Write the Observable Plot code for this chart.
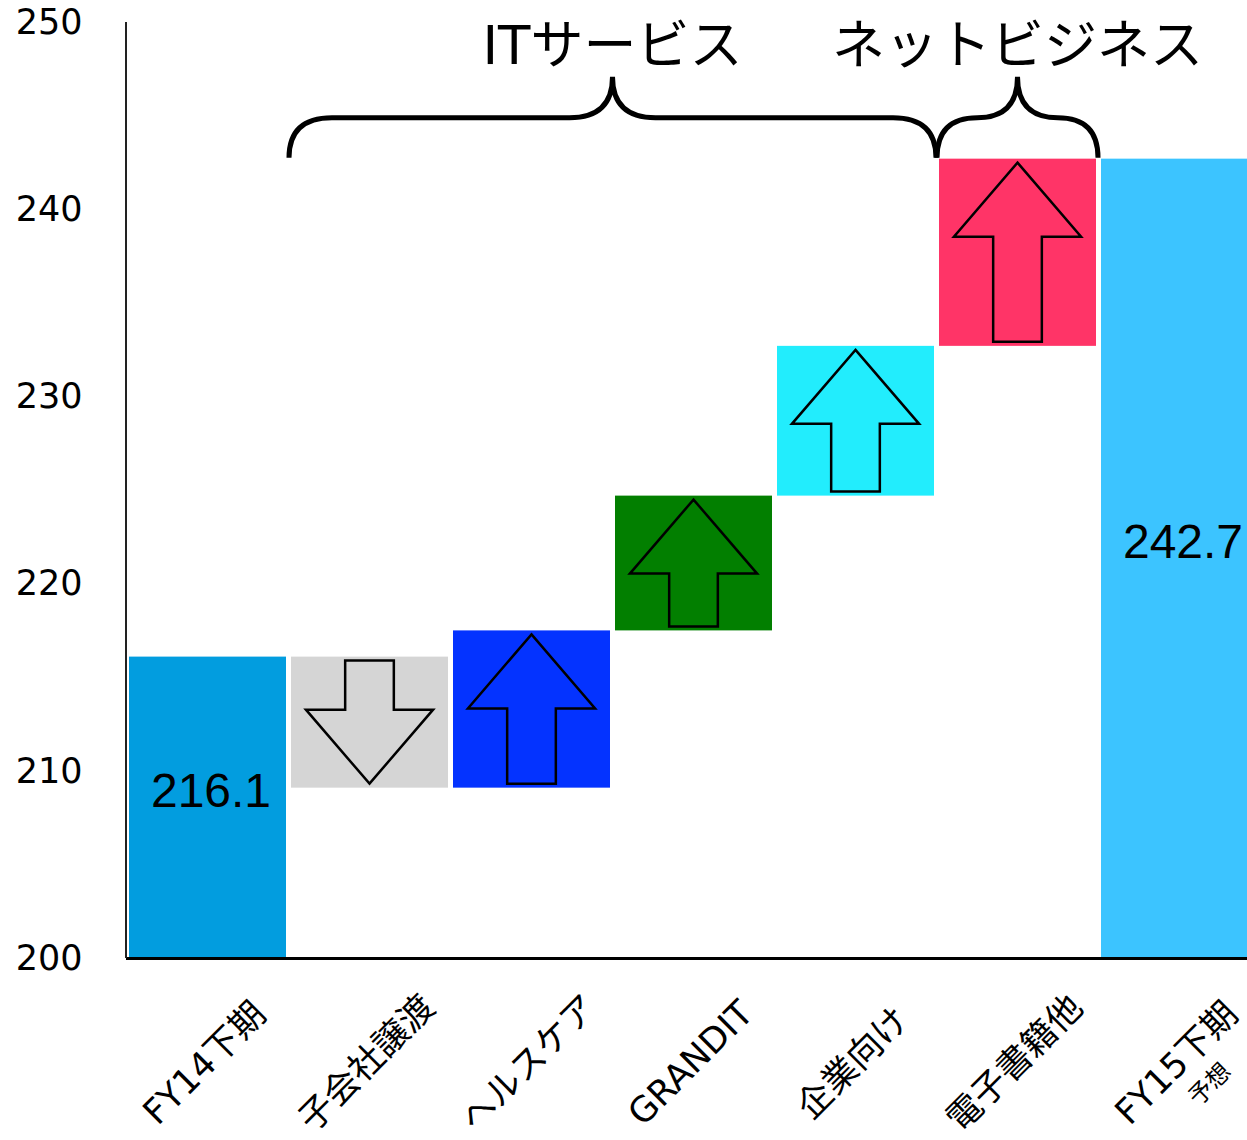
<!DOCTYPE html>
<html><head><meta charset="utf-8">
<script src="https://cdn.jsdelivr.net/npm/d3@7"></script>
<script src="https://cdn.jsdelivr.net/npm/@observablehq/plot@0.6"></script>
<style>html,body{margin:0;padding:0;background:#fff;overflow:hidden}</style>
</head><body><div id="chart"></div>
<script>
const categories = ["FY14下期","子会社譲渡","ヘルスケア","GRANDIT","企業向け","電子書籍他","FY15下期"];
const startTotal = 216.1;
const deltas = [-7.0, 8.4, 7.2, 8.0, 10.0];
const endTotal = 242.7;
const colors = ["#029DDF","#D5D5D5","#0433FF","#027F00","#22EDFD","#FF3467","#3CC4FF"];
const yTicks = [200, 210, 220, 230, 240, 250];
const subLabels = ["", "", "", "", "", "", "予想"];
const groups = [
  {label: "ITサービス", from: "子会社譲渡", to: "企業向け"},
  {label: "ネットビジネス", from: "電子書籍他", to: "電子書籍他"}
];

const bars = [];
bars.push({cat: categories[0], y1: 200, y2: startTotal, kind: "total", value: startTotal});
let run = startTotal;
deltas.forEach((d, i) => {
  bars.push({cat: categories[i + 1], y1: run, y2: run + d, kind: d < 0 ? "down" : "up", value: d});
  run += d;
});
bars.push({cat: categories[6], y1: 200, y2: endTotal, kind: "total", value: endTotal});
bars.forEach((b, i) => b.color = colors[i]);

const labelData = categories.map((c, i) => ({c, sub: subLabels[i]}));
const fontMain = "'DejaVu Sans', 'Noto Sans CJK JP', sans-serif";

const overlay = (index, scales, values, dimensions) => {
  const sx = scales.x, sy = scales.y;
  const bw = typeof sx.bandwidth === "function" ? sx.bandwidth() : sx.bandwidth;
  const g = d3.create("svg:g");
  g.append("line")
    .attr("x1", dimensions.marginLeft).attr("x2", dimensions.marginLeft)
    .attr("y1", sy(yTicks[yTicks.length - 1])).attr("y2", sy(yTicks[0]))
    .attr("stroke", "#222").attr("stroke-width", 2);
  for (const b of bars) {
    if (b.kind === "total") continue;
    const cx = sx(b.cat) + bw / 2;
    const top = sy(Math.max(b.y1, b.y2)) + 4, bot = sy(Math.min(b.y1, b.y2)) - 4;
    const hh = 74, hw = bw * 0.405, sw = bw * 0.155;
    let pts;
    if (b.kind === "up") pts = [[cx, top], [cx + hw, top + hh], [cx + sw, top + hh], [cx + sw, bot], [cx - sw, bot], [cx - sw, top + hh], [cx - hw, top + hh]];
    else pts = [[cx, bot], [cx + hw, bot - hh], [cx + sw, bot - hh], [cx + sw, top], [cx - sw, top], [cx - sw, bot - hh], [cx - hw, bot - hh]];
    g.append("polygon").attr("points", pts.map(p => p.join(",")).join(" "))
      .attr("fill", "none").attr("stroke", "#000").attr("stroke-width", 2.5).attr("stroke-linejoin", "miter");
  }
  const yb = sy(endTotal) - 1, yh = yb - 40, yt = yb - 81;
  for (const gr of groups) {
    const x0 = sx(gr.from) - 2, x1 = sx(gr.to) + bw + 2, xc = (x0 + x1) / 2;
    const r = Math.min(43, (x1 - x0) / 4);
    const path = `M${x0},${yb} Q${x0},${yh} ${x0 + r},${yh} L${xc - r},${yh} Q${xc},${yh} ${xc},${yt} Q${xc},${yh} ${xc + r},${yh} L${x1 - r},${yh} Q${x1},${yh} ${x1},${yb}`;
    g.append("path").attr("d", path).attr("fill", "none").attr("stroke", "#000").attr("stroke-width", 5);
    g.append("text").attr("x", xc).attr("y", yt - 13).attr("text-anchor", "middle")
      .attr("font-size", 53).attr("fill", "#000").text(gr.label);
  }
  return g.node();
};

const plot = Plot.plot({
  width: 1247, height: 1140,
  marginLeft: 126, marginRight: 0, marginTop: 22, marginBottom: 182,
  style: {fontFamily: fontMain, fontSize: "35px", color: "#000", background: "#fff"},
  x: {domain: categories, range: [127, 1261], paddingInner: 0.028, paddingOuter: 0, axis: null},
  y: {domain: [200, 250], ticks: yTicks, tickSize: 0, tickPadding: 44, label: null},
  color: {type: "identity"},
  marks: [
    Plot.barY(bars, {x: "cat", y1: "y1", y2: "y2", fill: "color"}),
    Plot.text(bars.filter(b => b.kind === "total"), {
      x: "cat", y: b => (b.y1 + b.y2) / 2, text: b => d3.format(".1f")(b.value),
      fontFamily: "'Liberation Sans', Arial, sans-serif", fontSize: 48, fill: "#000", dy: -16, dx: 3
    }),
    Plot.ruleY([200], {stroke: "#000", strokeWidth: 3}),
    Plot.text(labelData, {x: "c", y: () => 200, text: "c", rotate: -45, textAnchor: "middle", dy: 105, dx: -3, fontSize: 35, fill: "#000"}),
    Plot.text(labelData.filter(d => d.sub), {x: "c", y: () => 200, text: "sub", rotate: -45, textAnchor: "middle", dy: 126, dx: 30, fontSize: 24, fill: "#000"}),
    overlay
  ]
});
document.getElementById("chart").appendChild(plot);
</script>
</body></html>
